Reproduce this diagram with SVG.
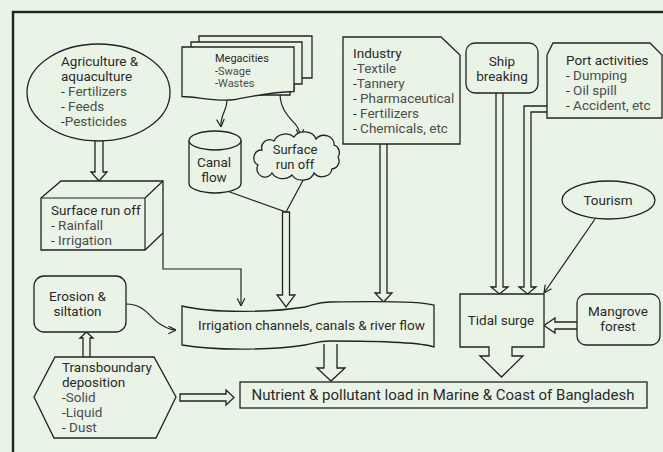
<svg xmlns="http://www.w3.org/2000/svg" width="663" height="452" viewBox="0 0 663 452">
<style>
  .s{fill:#e9f4e6;stroke:#222;stroke-width:1.3;stroke-linejoin:miter}
  .c{fill:none;stroke:#222;stroke-width:1.2}
  text{font-family:Roboto,"Liberation Sans",sans-serif;font-size:13.5px;fill:#2a2a2a}
  .i{fill:#4d4d4d}
  .m{text-anchor:middle}
  .sm{font-size:11px}
</style>
<defs>
  <marker id="ah" viewBox="0 0 10 10" refX="9.5" refY="5" markerWidth="9" markerHeight="9" markerUnits="userSpaceOnUse" orient="auto">
    <path d="M1,0.8 L9.5,5 L1,9.2" fill="none" stroke="#222" stroke-width="1.3"/>
  </marker>
</defs>
<rect width="663" height="452" fill="#e9f4e6"/>
<rect x="13" y="12" width="700" height="500" fill="none" stroke="#222" stroke-width="2.4"/>

<g id="connectors">
  <path class="s" d="M95,141 V172 H91 L99,181 L107,172 H103 V141"/>
  <path class="c" d="M227,100 C227,112 220,114 221,127" marker-end="url(#ah)"/>
  <path class="c" d="M280,93 C280,110 290,118 296,125 C299,129 300,133 300,137" marker-end="url(#ah)"/>
  <path class="c" d="M227,191 L286,212 L307,173"/>
  <path class="s" d="M282.5,212 V295 H277 L286,307 L295,295 H289.5 V212 Z"/>
  <path class="c" d="M163,233 V269 H241 V306" marker-end="url(#ah)"/>
  <path class="s" d="M380,144 V293 H375 L383.5,302 L392,293 H387 V144"/>
  <path class="s" d="M496,93 V287 H491 L499.5,294 L508,287 H503 V93"/>
  <path class="s" d="M547,106 H524 V287 H519 L527.5,294 L536,287 H531 V112 H547"/>
  <path class="c" d="M595,219 L544,293" marker-end="url(#ah)"/>
  <path class="s" d="M577,322 H555 V318 L544,325.5 L555,333 V329 H577"/>
  <path class="c" d="M126,304 C145,304 150,318 160,324 C166,328 170,330 176,330" marker-end="url(#ah)"/>
  <path class="s" d="M83,357 V338 H80 L86.5,332 L93,338 H90 V357"/>
  <path class="s" d="M180,394 H226 V390 L234,397.5 L226,405 V401 H180 Z"/>
  <path class="s" d="M324,344 V368 H317 L331,381 L345,368 H337 V344"/>
</g>

<g id="agriculture">
  <ellipse class="s" cx="98.5" cy="92.5" rx="71.5" ry="48.5"/>
  <text x="61" y="66">Agriculture &amp;</text>
  <text x="61" y="81">aquaculture</text>
  <text x="61" y="96">- <tspan class="i">Fertilizers</tspan></text>
  <text x="61" y="111">- <tspan class="i">Feeds</tspan></text>
  <text x="61" y="126">-<tspan class="i">Pesticides</tspan></text>
</g>

<g id="surface-runoff-box">
  <path class="s" d="M41,198 L61,181 H163 V233 L145,250 H41 Z"/>
  <path class="c" d="M41,198 H145 V250 M145,198 L163,181"/>
  <text x="51" y="215">Surface run off</text>
  <text x="51" y="230">- <tspan class="i">Rainfall</tspan></text>
  <text x="51" y="245">- <tspan class="i">Irrigation</tspan></text>
</g>

<g id="megacities">
  <path class="s" d="M199,36 H312 V78 H294 V90 H199 Z"/>
  <path class="s" d="M191,42 H302 V84 H290 V95 H191 Z"/>
  <path class="s" d="M182,47 H294 V91.5 C270,92 255,96 235,99.5 C215,102 200,97 182,96.5 Z"/>
  <text class="sm" x="215" y="62">Megacities</text>
  <text class="sm" x="215" y="74.5">-<tspan class="i">Swage</tspan></text>
  <text class="sm" x="215" y="86.5">-<tspan class="i">Wastes</tspan></text>
</g>

<g id="canal-flow">
  <path class="s" d="M189,140.5 V183.5 A26,9.5 0 0,0 241,183.5 V140.5"/>
  <ellipse class="s" cx="215" cy="140.5" rx="26" ry="9.5"/>
  <text class="m" x="214" y="167">Canal</text>
  <text class="m" x="214" y="182">flow</text>
</g>

<g id="surface-runoff-cloud">
  <path class="s" d="M262,150 a8,8 0 0,1 12,-9 a12,10 0 0,1 20,-4 a12,10 0 0,1 22,2 a10,9 0 0,1 18,6 a8,8 0 0,1 4,12 a8,8 0 0,1 -6,12 a10,9 0 0,1 -18,4 a12,10 0 0,1 -22,2 a12,10 0 0,1 -20,-2 a8,8 0 0,1 -14,-8 a8,8 0 0,1 4,-15 z"/>
  <text class="m" x="295" y="154" style="font-size:13px">Surface</text>
  <text class="m" x="295" y="169" style="font-size:13px">run off</text>
</g>

<g id="industry">
  <path class="s" d="M343,37 H441 L460,55 V144 H343 Z"/>
  <text x="353" y="58">Industry</text>
  <text x="353" y="73">-<tspan class="i">Textile</tspan></text>
  <text x="353" y="88">-<tspan class="i">Tannery</tspan></text>
  <text x="353" y="103">- <tspan class="i">Pharmaceutical</tspan></text>
  <text x="353" y="118">- <tspan class="i">Fertilizers</tspan></text>
  <text x="353" y="133">- <tspan class="i">Chemicals, etc</tspan></text>
</g>

<g id="ship-breaking">
  <rect class="s" x="466" y="43" width="72" height="50" rx="9"/>
  <text class="m" x="502" y="66">Ship</text>
  <text class="m" x="502" y="81">breaking</text>
</g>

<g id="port-activities">
  <path class="s" d="M547,55 L553,43 H650 L662,55 V118 H547 Z"/>
  <text x="566" y="65">Port activities</text>
  <text x="566" y="80">- <tspan class="i">Dumping</tspan></text>
  <text x="566" y="95">- <tspan class="i">Oil spill</tspan></text>
  <text x="566" y="110">- <tspan class="i">Accident, etc</tspan></text>
</g>

<g id="tourism">
  <ellipse class="s" cx="608.5" cy="200" rx="46.5" ry="19"/>
  <text class="m" x="608" y="205">Tourism</text>
</g>

<g id="tidal-surge">
  <path class="s" d="M460,294 H544 V347 H512 V356 H523 L501.5,377 L480,356 H489 V347 H460 Z"/>
  <text class="m" x="501" y="325">Tidal surge</text>
</g>

<g id="mangrove">
  <rect class="s" x="577" y="294" width="83" height="51" rx="9"/>
  <text class="m" x="618" y="316">Mangrove</text>
  <text class="m" x="618" y="331">forest</text>
</g>

<g id="irrigation">
  <path class="s" d="M182,306 C215,314 275,312 305,307 C316,304 318,302 330,302 C380,301 420,301 434,305 V347 C420,342 380,341 330,341 C318,341 316,343 305,345 C275,350 215,351 182,345 Z"/>
  <text x="198" y="330">Irrigation channels, canals &amp; river flow</text>
</g>

<g id="erosion">
  <rect class="s" x="34" y="276" width="92" height="56" rx="10"/>
  <text class="m" x="77.5" y="301">Erosion &amp;</text>
  <text class="m" x="77.5" y="316">siltation</text>
</g>

<g id="transboundary">
  <path class="s" d="M55,357 H154 L176,397 L156,438 H54 L34,397 Z"/>
  <text x="62" y="372">Transboundary</text>
  <text x="62" y="387">deposition</text>
  <text x="62" y="402">-<tspan class="i">Solid</tspan></text>
  <text x="62" y="417">-<tspan class="i">Liquid</tspan></text>
  <text x="62" y="432">- <tspan class="i">Dust</tspan></text>
</g>

<g id="nutrient">
  <rect class="s" x="240" y="382" width="407" height="26"/>
  <text class="m" x="443" y="400" style="font-size:15px">Nutrient &amp; pollutant load in Marine &amp; Coast of Bangladesh</text>
</g>
</svg>
